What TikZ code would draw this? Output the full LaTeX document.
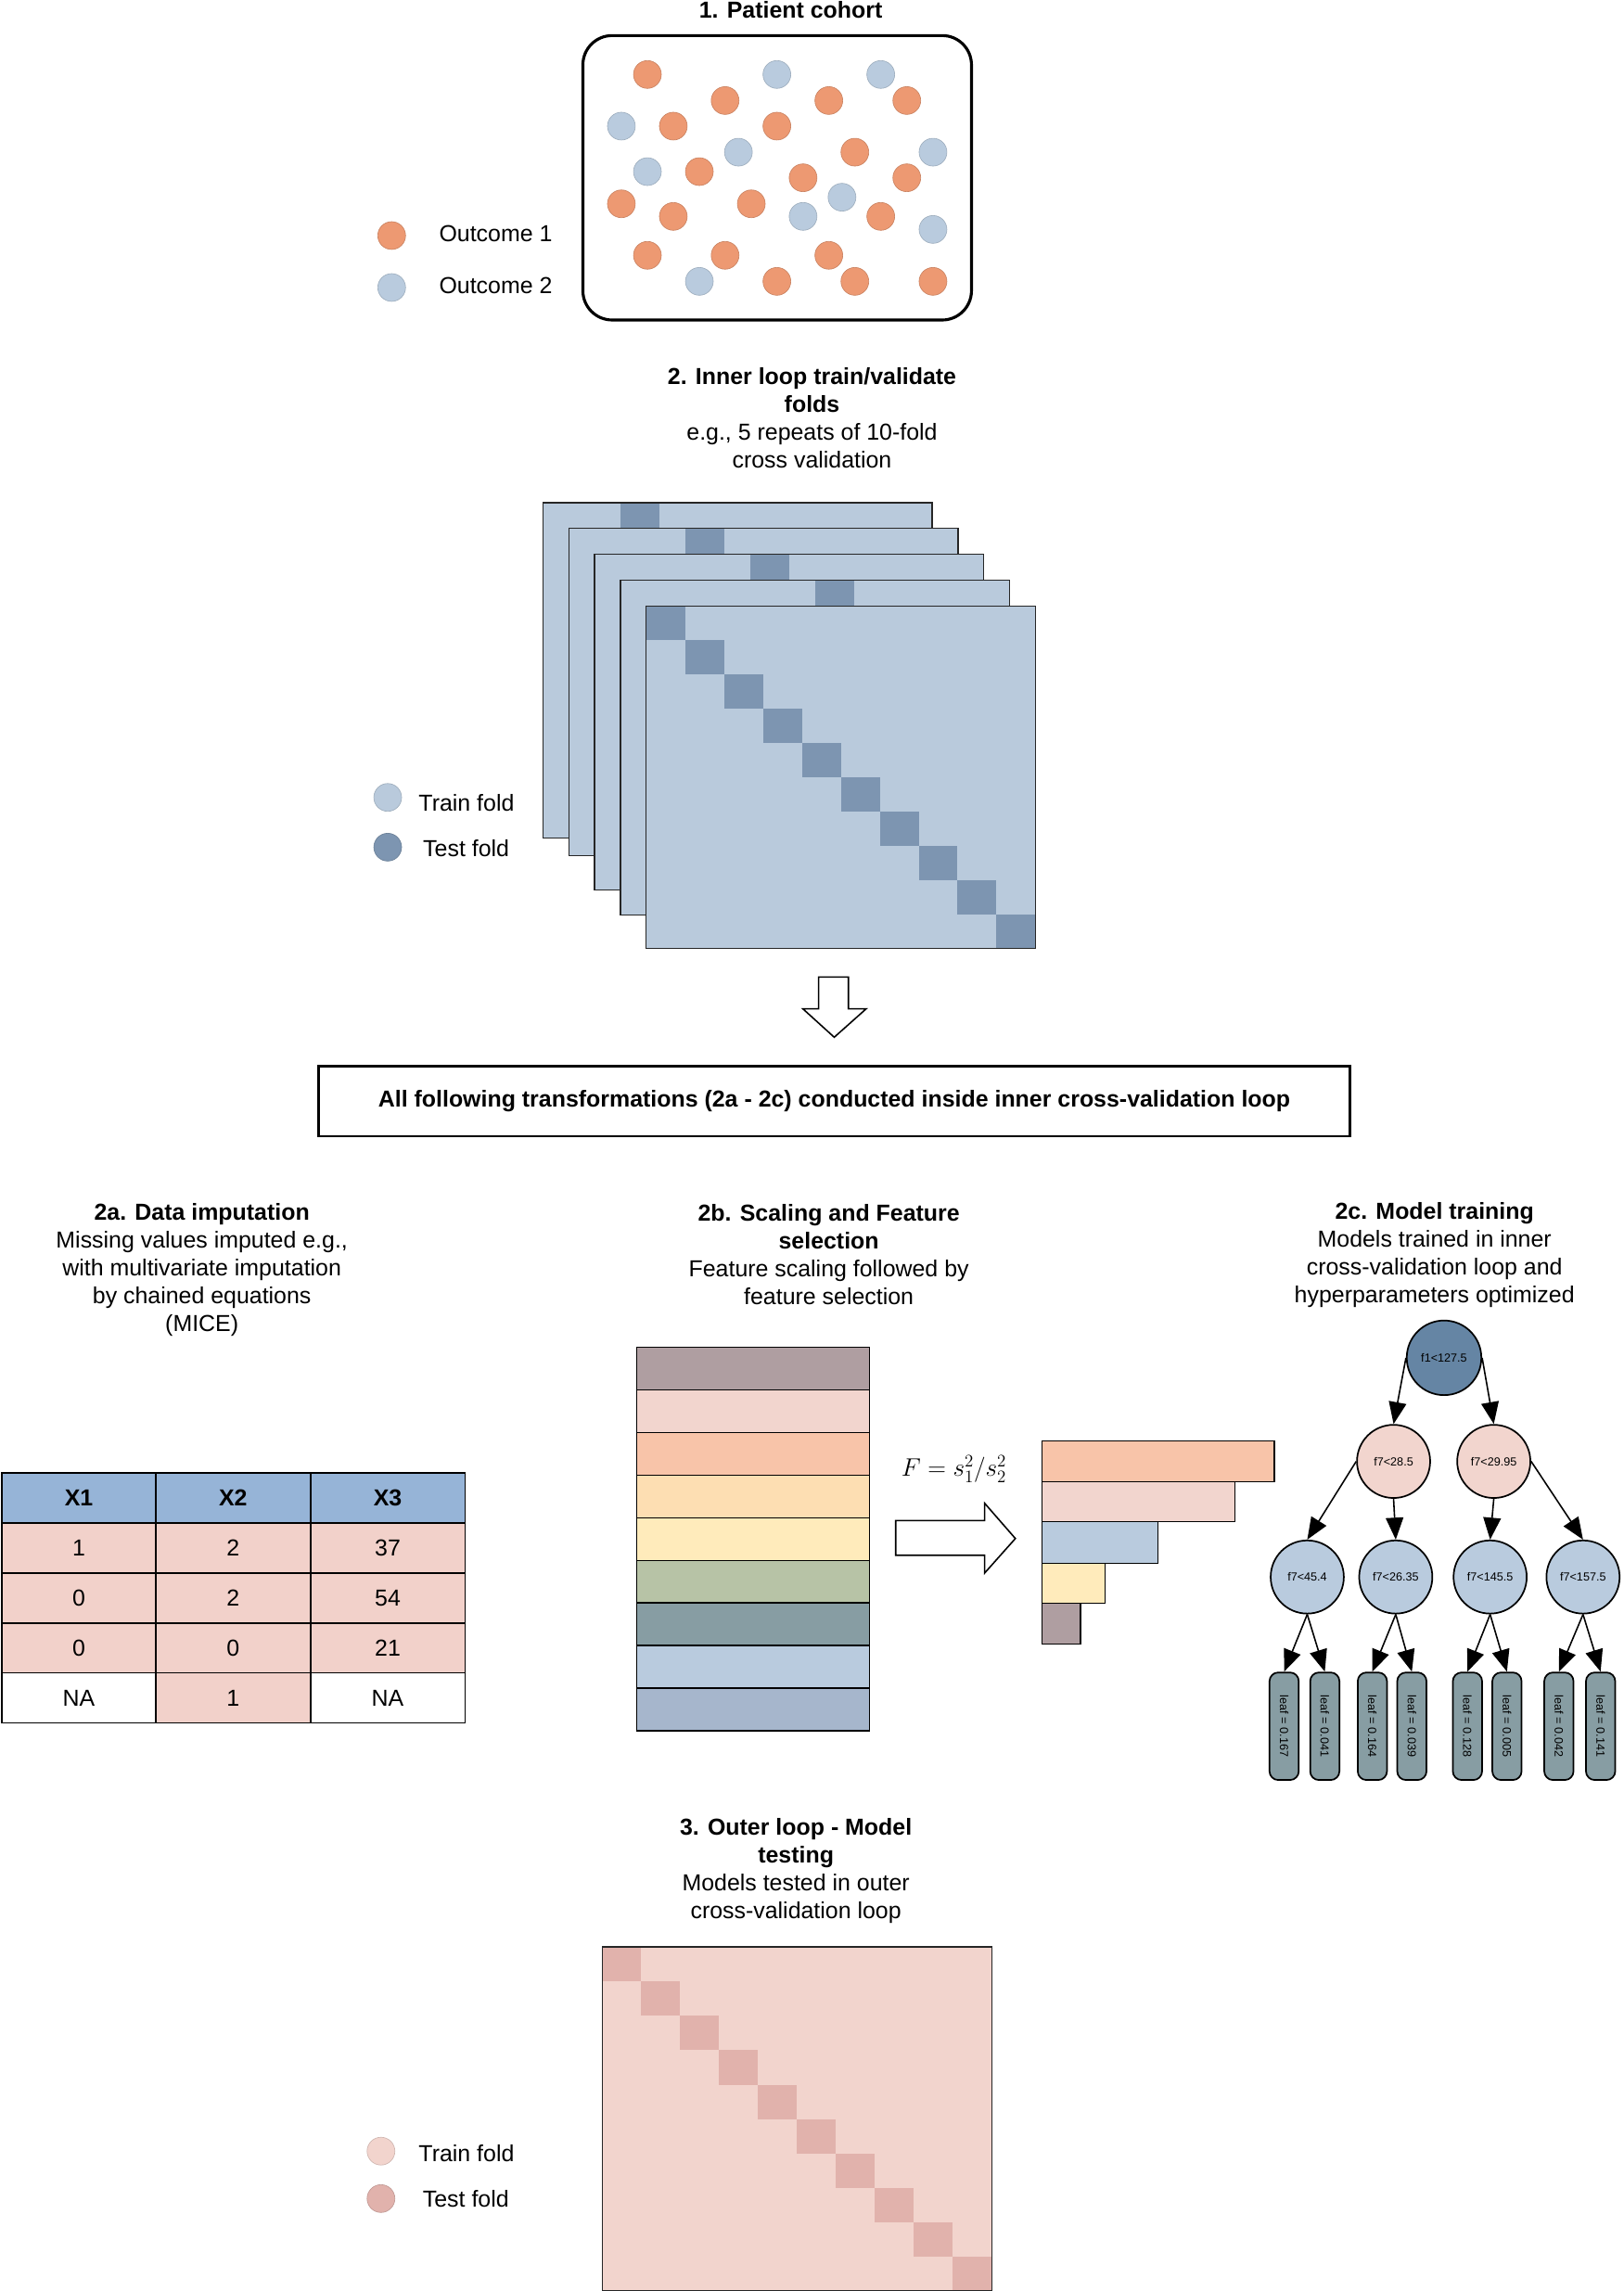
\documentclass[tikz,border=0pt]{standalone}
\usepackage{fontspec}
\setmainfont{Liberation Sans}
\usetikzlibrary{shapes.geometric, arrows.meta}

\definecolor{outcomeOne}{RGB}{237,153,114}
\definecolor{outcomeTwo}{RGB}{185,203,222}
\definecolor{trainBlue}{RGB}{185,202,220}
\definecolor{testBlue}{RGB}{125,149,177}
\definecolor{trainPink}{RGB}{242,212,205}
\definecolor{testPink}{RGB}{225,178,172}
\definecolor{headBlue}{RGB}{150,180,215}
\definecolor{cellPink}{RGB}{242,209,202}
\definecolor{barMauve}{RGB}{175,158,161}
\definecolor{barRose}{RGB}{242,213,206}
\definecolor{barSalmon}{RGB}{248,196,169}
\definecolor{barPeach}{RGB}{253,222,178}
\definecolor{barCream}{RGB}{255,235,187}
\definecolor{barSage}{RGB}{183,195,166}
\definecolor{barTeal}{RGB}{135,157,163}
\definecolor{barSky}{RGB}{185,203,222}
\definecolor{barSteel}{RGB}{166,182,204}
\definecolor{rootBlue}{RGB}{101,133,164}
\definecolor{leafTeal}{RGB}{135,157,163}

\tikzstyle{sectiontitle} = [align=center, inner sep=0pt, font=\fontsize{15.8}{19}\selectfont]
\tikzstyle{legendtext} = [anchor=west, inner sep=0pt, font=\fontsize{15.8}{19}\selectfont]
\tikzstyle{cohortdot} = [circle, minimum size=19pt, inner sep=0pt, line width=0.4pt]
\tikzstyle{tablecell} = [rectangle, minimum width=105.6pt, minimum height=34.1pt, inner sep=0pt, draw=black, line width=1pt, font=\fontsize{15.8}{19}\selectfont]
\tikzstyle{splitnode} = [circle, minimum size=50pt, inner sep=0pt, draw=black, line width=1.1pt, font=\fontsize{8}{9}\selectfont]
\tikzstyle{leafnode} = [rectangle, rounded corners=6pt, minimum width=20pt, minimum height=73.5pt, inner sep=0pt, draw=black, line width=1.1pt, fill=leafTeal, font=\fontsize{8}{9}\selectfont]
\tikzstyle{arrow} = [line width=1pt, -{Triangle[length=15pt, width=12pt]}]
\tikzstyle{hollow} = [draw=black, line width=1pt, fill=white]

\begin{document}
\begin{tikzpicture}[x=1pt, y=-1pt]
\useasboundingbox (0,0) rectangle (1110,1565.8);

% 1. patient cohort
\node (cohortTitle) [sectiontitle] at (540.5,6.8) {\textbf{1. Patient cohort}};
\node (cohortBox) [rectangle, rounded corners=20pt, draw=black, line width=2pt, minimum width=265.6pt, minimum height=194.4pt] at (531.2,121.5) {};
\foreach \x/\y/\col [count=\i] in {442.5/50.9/outcomeOne, 531/50.9/outcomeTwo, 602/50.9/outcomeTwo,
  495.6/68.7/outcomeOne, 566.5/68.7/outcomeOne, 619.8/68.7/outcomeOne,
  424.7/86.2/outcomeTwo, 460.2/86.2/outcomeOne, 531/86.2/outcomeOne,
  504.7/104/outcomeTwo, 584.3/104/outcomeOne, 637.7/104/outcomeTwo,
  442.5/117.3/outcomeTwo, 478/117.3/outcomeOne, 548.9/121.5/outcomeOne, 619.8/121.5/outcomeOne,
  424.7/139.3/outcomeOne, 513.5/139.3/outcomeOne, 575.5/134.8/outcomeTwo,
  460.2/147.9/outcomeOne, 548.9/147.9/outcomeTwo, 602/147.9/outcomeOne, 637.7/156.8/outcomeTwo,
  442.5/174.5/outcomeOne, 495.6/174.5/outcomeOne, 566.5/174.5/outcomeOne,
  478/192.3/outcomeTwo, 531/192.3/outcomeOne, 584.3/192.3/outcomeOne, 637.7/192.3/outcomeOne}
  \node (patient\i) [cohortdot, fill=\col, draw=\col!85!black] at (\x,\y) {};
\node (keyOne) [cohortdot, fill=outcomeOne, draw=outcomeOne!85!black] at (267.7,161) {};
\node (keyTwo) [cohortdot, fill=outcomeTwo, draw=outcomeTwo!85!black] at (267.7,196.5) {};
\node (keyOneText) [legendtext] at (300,160) {Outcome 1};
\node (keyTwoText) [legendtext] at (300,195.5) {Outcome 2};

% 2. inner loop folds
\node (innerTitle) [sectiontitle] at (555,285.5) {\textbf{2. Inner loop train/validate}\\\textbf{folds}\\e.g., 5 repeats of 10-fold\\cross validation};
\foreach \l/\t/\b/\k in {371/343.6/572.6/2, 388.9/360.9/584.9/3, 406.3/378.7/608.1/4, 424/396.4/625.5/5}{
  \fill[trainBlue] (\l,\t) rectangle (\l+266,\b);
  \fill[testBlue] (\l+\k*26.6,\t) rectangle (\l+\k*26.6+26.6,\t+23.4);
  \draw[black!85, line width=0.9pt] (\l,\t) rectangle (\l+266,\b);
}
\fill[trainBlue] (441.7,414.2) rectangle (707.7,648.3);
\foreach \i in {0,...,9}
  \fill[testBlue] (441.7+\i*26.6,414.2+\i*23.41) rectangle (441.7+\i*26.6+26.6,414.2+\i*23.41+23.41);
\draw[black!85, line width=0.9pt] (441.7,414.2) rectangle (707.7,648.3);
\node (innerTrain) [cohortdot, fill=trainBlue, draw=trainBlue!85!black] at (265,545) {};
\node (innerTest) [cohortdot, fill=testBlue, draw=testBlue!85!black] at (265,579) {};
\node (innerTrainText) [legendtext] at (286,548.5) {Train fold};
\node (innerTestText) [legendtext] at (289,580) {Test fold};

\draw[hollow] (559.5,667.7) -- (579.9,667.7) -- (579.9,689.5) -- (592,689.5) -- (570.2,708.9) -- (548.8,689.5) -- (559.5,689.5) -- cycle;
\node (loopBox) [rectangle, draw=black, line width=1.8pt, minimum width=705pt, minimum height=48pt, font=\fontsize{15.8}{19}\selectfont] at (570.2,752.6) {\textbf{All following transformations (2a - 2c) conducted inside inner cross-validation loop}};

% 2a. imputation
\node (imputeTitle) [sectiontitle] at (138,868) {\textbf{2a. Data imputation}\\Missing values imputed e.g.,\\with multivariate imputation\\by chained equations\\(MICE)};
\node (headX1) [tablecell, fill=headBlue] at (53.9,1023.6) {\textbf{X1}};
\node (headX2) [tablecell, fill=headBlue] at (159.3,1023.6) {\textbf{X2}};
\node (headX3) [tablecell, fill=headBlue] at (265,1023.6) {\textbf{X3}};
\node (rowAX1) [tablecell, fill=cellPink] at (53.9,1057.9) {1};
\node (rowAX2) [tablecell, fill=cellPink] at (159.3,1057.9) {2};
\node (rowAX3) [tablecell, fill=cellPink] at (265,1057.9) {37};
\node (rowBX1) [tablecell, fill=cellPink] at (53.9,1092.3) {0};
\node (rowBX2) [tablecell, fill=cellPink] at (159.3,1092.3) {2};
\node (rowBX3) [tablecell, fill=cellPink] at (265,1092.3) {54};
\node (rowCX1) [tablecell, fill=cellPink] at (53.9,1126.5) {0};
\node (rowCX2) [tablecell, fill=cellPink] at (159.3,1126.5) {0};
\node (rowCX3) [tablecell, fill=cellPink] at (265,1126.5) {21};
\node (rowDX1) [tablecell, fill=white] at (53.9,1160.4) {NA};
\node (rowDX2) [tablecell, fill=cellPink] at (159.3,1160.4) {1};
\node (rowDX3) [tablecell, fill=white] at (265,1160.4) {NA};

% 2b. scaling and selection
\node (selectTitle) [sectiontitle] at (566.5,857.5) {\textbf{2b. Scaling and Feature}\\\textbf{selection}\\Feature scaling followed by\\feature selection};
\foreach \col [count=\i from 0] in {barMauve, barRose, barSalmon, barPeach, barCream, barSage, barTeal, barSky, barSteel}
  \draw[fill=\col, line width=1pt] (435.3,920.9+\i*29.11) rectangle (594.2,920.9+\i*29.11+29.11);
\node (fRatio) [inner sep=0pt, font=\fontsize{18.5}{20}\selectfont] at (652,1004) {$F = s_1^2/s_2^2$};
\draw[hollow] (612.2,1039.2) -- (673,1039.2) -- (673,1027.4) -- (694,1051.5) -- (673,1075.1) -- (673,1062.9) -- (612.2,1062.9) -- cycle;
\draw[fill=barSalmon, line width=0.9pt] (712.3,984.7) rectangle (871,1012.6);
\draw[fill=barRose, line width=0.9pt] (712.3,1012.6) rectangle (844.2,1040);
\draw[fill=barSky, line width=0.9pt] (712.3,1040) rectangle (791.5,1068.3);
\draw[fill=barCream, line width=0.9pt] (712.3,1068.3) rectangle (755.4,1095.6);
\draw[fill=barMauve, line width=0.9pt] (712.3,1095.6) rectangle (738.5,1123.7);

% 2c. model training
\node (trainTitle) [sectiontitle] at (980.5,857.5) {\textbf{2c. Model training}\\Models trained in inner\\cross-validation loop and\\hyperparameters optimized};
\node (rootSplit) [splitnode, minimum size=51pt, fill=rootBlue] at (987,928) {f1<127.5};
\node (splitL) [splitnode, fill=barRose] at (952.5,998.8) {f7<28.5};
\node (splitR) [splitnode, fill=barRose] at (1021,998.8) {f7<29.95};
\node (splitLL) [splitnode, fill=barSky] at (893.5,1077.8) {f7<45.4};
\node (splitLR) [splitnode, fill=barSky] at (954,1077.8) {f7<26.35};
\node (splitRL) [splitnode, fill=barSky] at (1018.5,1077.8) {f7<145.5};
\node (splitRR) [splitnode, fill=barSky] at (1082,1077.8) {f7<157.5};
\node (leafA) [leafnode] at (877.7,1179.8) {\rotatebox{-90}{leaf = 0.167}};
\node (leafB) [leafnode] at (905.5,1179.8) {\rotatebox{-90}{leaf = 0.041}};
\node (leafC) [leafnode] at (938,1179.8) {\rotatebox{-90}{leaf = 0.164}};
\node (leafD) [leafnode] at (965,1179.8) {\rotatebox{-90}{leaf = 0.039}};
\node (leafE) [leafnode] at (1003,1179.8) {\rotatebox{-90}{leaf = 0.128}};
\node (leafF) [leafnode] at (1030,1179.8) {\rotatebox{-90}{leaf = 0.005}};
\node (leafG) [leafnode] at (1065.5,1179.8) {\rotatebox{-90}{leaf = 0.042}};
\node (leafH) [leafnode] at (1094,1179.8) {\rotatebox{-90}{leaf = 0.141}};

\draw [arrow] (rootSplit.west) -- (splitL.north);
\draw [arrow] (rootSplit.east) -- (splitR.north);
\draw [arrow] (splitL.west) -- (splitLL.north);
\draw [arrow] (splitL.south) -- (splitLR.north);
\draw [arrow] (splitR.south) -- (splitRL.north);
\draw [arrow] (splitR.east) -- (splitRR.north);
\draw [arrow] (splitLL.south) -- (leafA.north);
\draw [arrow] (splitLL.south) -- (leafB.north);
\draw [arrow] (splitLR.south) -- (leafC.north);
\draw [arrow] (splitLR.south) -- (leafD.north);
\draw [arrow] (splitRL.south) -- (leafE.north);
\draw [arrow] (splitRL.south) -- (leafF.north);
\draw [arrow] (splitRR.south) -- (leafG.north);
\draw [arrow] (splitRR.south) -- (leafH.north);

% 3. outer loop
\node (outerTitle) [sectiontitle] at (544,1278.5) {\textbf{3. Outer loop - Model}\\\textbf{testing}\\Models tested in outer\\cross-validation loop};
\fill[trainPink] (411.6,1330.7) rectangle (677.9,1565.8);
\foreach \i in {0,...,9}
  \fill[testPink] (411.6+\i*26.63,1330.7+\i*23.51) rectangle (411.6+\i*26.63+26.63,1330.7+\i*23.51+23.51);
\draw[black!85, line width=0.9pt] (411.6,1330.7) rectangle (677.9,1565.8);
\node (outerTrain) [cohortdot, fill=trainPink, draw=trainPink!85!black] at (260.4,1470.2) {};
\node (outerTest) [cohortdot, fill=testPink, draw=testPink!85!black] at (260.4,1502.6) {};
\node (outerTrainText) [legendtext] at (286,1472) {Train fold};
\node (outerTestText) [legendtext] at (288.8,1503) {Test fold};

\end{tikzpicture}
\end{document}
